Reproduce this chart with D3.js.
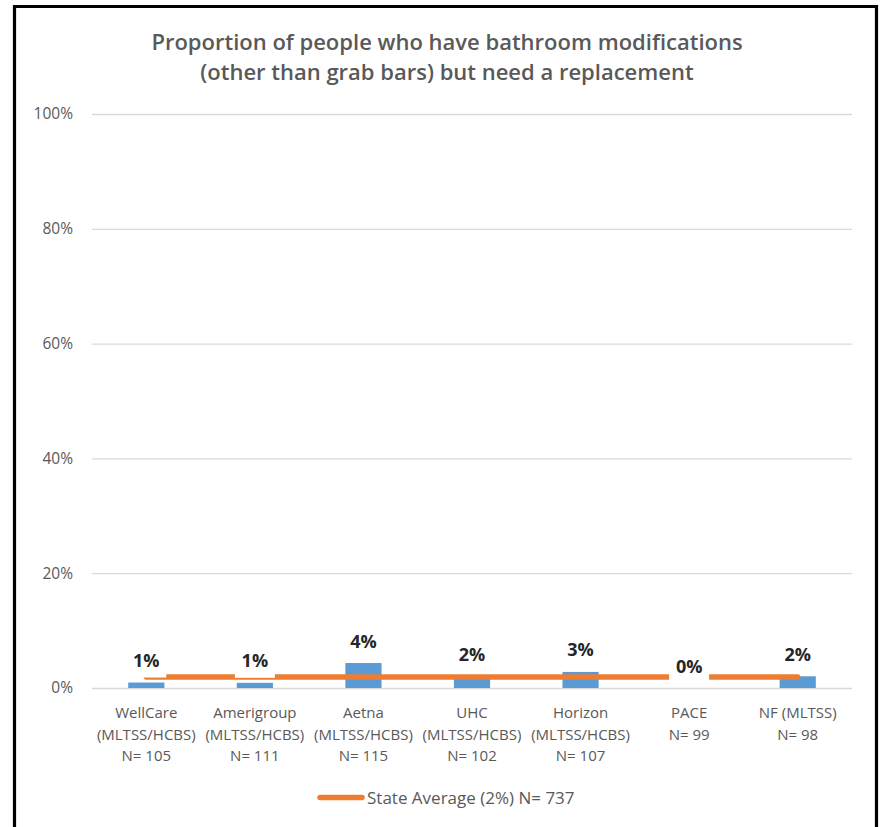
<!DOCTYPE html>
<html><head><meta charset="utf-8">
<script src="https://cdn.jsdelivr.net/npm/d3@7"></script>
<style>html,body{margin:0;padding:0;background:#fff}svg{display:block}</style>
</head><body>
<script>
const titleLines = ["Proportion of people who have bathroom modifications", "(other than grab bars) but need a replacement"];
const categories = ["WellCare", "Amerigroup", "Aetna", "UHC", "Horizon", "PACE", "NF (MLTSS)"];
const categorySub = ["(MLTSS/HCBS)", "(MLTSS/HCBS)", "(MLTSS/HCBS)", "(MLTSS/HCBS)", "(MLTSS/HCBS)", "", ""];
const sampleN = ["N= 105", "N= 111", "N= 115", "N= 102", "N= 107", "N= 99", "N= 98"];
const values = [0.95, 0.9, 4.35, 1.96, 2.8, 0, 2.04];
const valueLabels = ["1%", "1%", "4%", "2%", "3%", "0%", "2%"];
const stateAverage = [1.9, 1.9, 1.9, 1.9, 1.9, 1.9, 1.9];
const legendLabel = "State Average (2%) N= 737";
const yTicks = [0, 20, 40, 60, 80, 100];

const W = 880, H = 827;
const svg = d3.select("body").append("svg").attr("width", W).attr("height", H);
const FONT = "'Open Sans', sans-serif";
const grey = "#595959";

const x = d3.scaleBand().domain(categories).range([92, 852]).paddingInner(0).paddingOuter(0);
const y = d3.scaleLinear().domain([0, 100]).range([688, 114]);

// title
svg.append("text").attr("x", 447).attr("y", 50).attr("text-anchor", "middle")
  .attr("font-family", FONT).attr("font-size", 22).attr("font-weight", 600).attr("fill", grey)
  .selectAll("tspan").data(titleLines).join("tspan")
  .attr("x", 447).attr("dy", (d, i) => i ? 30 : 0).text(d => d);

// gridlines + y axis
const yAxis = d3.axisLeft(y).tickValues(yTicks).tickFormat(d => d + "%").tickSize(-(852 - 92)).tickPadding(19);
const ga = svg.append("g").attr("transform", "translate(92,0)").call(yAxis);
ga.select(".domain").remove();
ga.selectAll(".tick line").attr("stroke", "#d9d9d9").attr("stroke-width", 1.3);
ga.selectAll(".tick text").attr("font-family", FONT).attr("font-size", 15.5).attr("fill", grey);

// bars
const bw = x.bandwidth() / 3;
svg.append("g").selectAll("rect").data(values).join("rect")
  .attr("x", (d, i) => x(categories[i]) + x.bandwidth() / 2 - bw / 2)
  .attr("width", bw)
  .attr("y", d => y(d))
  .attr("height", d => y(0) - y(d))
  .attr("fill", "#5b9bd5");

// state average line
const line = d3.line().x((d, i) => x(categories[i]) + x.bandwidth() / 2).y(d => y(d));
svg.append("path").datum(stateAverage).attr("d", line)
  .attr("fill", "none").attr("stroke", "#ed7d31").attr("stroke-width", 5.5).attr("stroke-linecap", "round");

// data labels with white background
const lg = svg.append("g").selectAll("g").data(values).join("g")
  .attr("transform", (d, i) => `translate(${x(categories[i]) + x.bandwidth() / 2},${y(d) - 15.5})`);
lg.append("rect").attr("x", -20).attr("y", -22).attr("width", 40).attr("height", 32.5).attr("fill", "#fff");
lg.append("text").attr("text-anchor", "middle").attr("font-family", FONT).attr("font-size", 18)
  .attr("font-weight", 700).attr("fill", "#262626").text((d, i) => valueLabels[i]);

// category labels
const cg = svg.append("g").selectAll("text").data(categories).join("text")
  .attr("text-anchor", "middle").attr("font-family", FONT).attr("font-size", 15).attr("fill", grey);
cg.each(function (d, i) {
  const cx = x(d) + x.bandwidth() / 2;
  const lines = [d, categorySub[i], sampleN[i]].filter(s => s);
  d3.select(this).selectAll("tspan").data(lines).join("tspan")
    .attr("x", cx).attr("y", (s, j) => 718 + j * 21.5).text(s => s);
});

// legend
svg.append("line").attr("x1", 320).attr("x2", 362).attr("y1", 797.5).attr("y2", 797.5)
  .attr("stroke", "#ed7d31").attr("stroke-width", 5.5).attr("stroke-linecap", "round");
svg.append("text").attr("x", 367).attr("y", 803.5).attr("font-family", FONT).attr("font-size", 17)
  .attr("fill", grey).text(legendLabel);

// frame
svg.append("path").attr("d", "M14.5,830 V6.5 H876.5 V830").attr("fill", "none")
  .attr("stroke", "#000").attr("stroke-width", 3.2);
</script>
</body></html>
